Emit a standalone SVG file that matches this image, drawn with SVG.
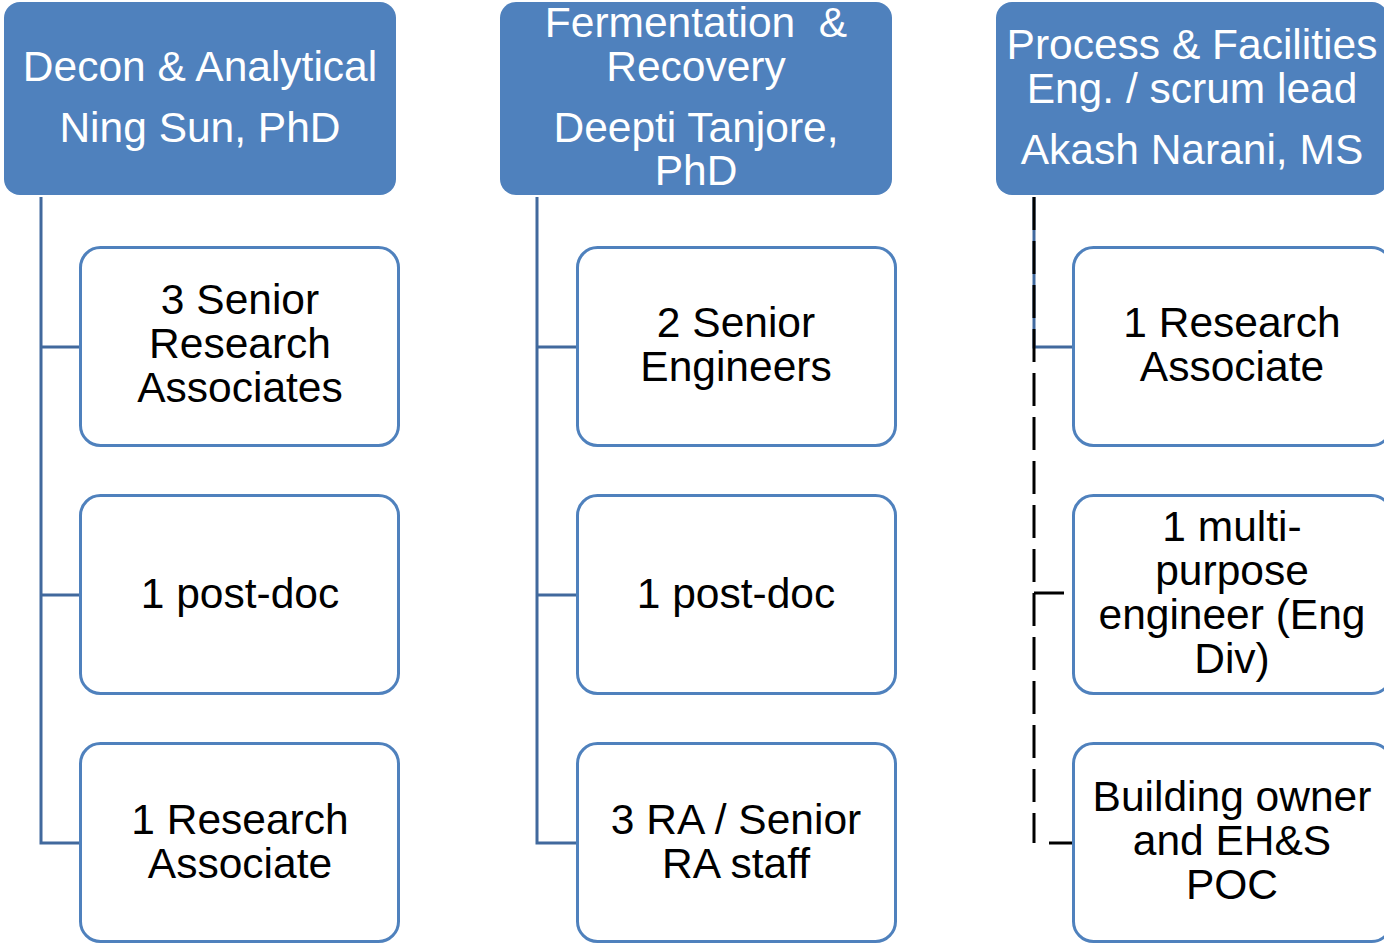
<svg xmlns="http://www.w3.org/2000/svg" width="1384" height="945" viewBox="0 0 1384 945">
<style>
.hdr{fill:#4F81BD;}
.box{fill:#FFFFFF;stroke:#4F81BD;stroke-width:3;}
.ht{font-family:"Liberation Sans",Arial,sans-serif;font-size:42.5px;fill:#FFFFFF;text-anchor:middle;white-space:pre;}
.bt{font-family:"Liberation Sans",Arial,sans-serif;font-size:42.5px;fill:#000000;text-anchor:middle;}
.con{fill:none;stroke:#41699D;stroke-width:3;stroke-linejoin:miter;}
.dash{fill:none;stroke:#000000;stroke-width:3;stroke-dasharray:33 11;}
</style>
<rect width="1384" height="945" fill="#FFFFFF"/>
<g id="connectors">
<path class="con" d="M41,197 V843 H80 M41,347 H80 M41,595 H80"/>
<path class="con" d="M537,197 V843 H577 M537,347 H577 M537,595 H577"/>
<path class="con" d="M1034,197 V347 H1073"/>
<path class="dash" d="M1034,197 V843"/>
<path fill="none" stroke="#000000" stroke-width="3" d="M1034,593 H1064 M1049,843 H1073"/>
</g>
<g id="h1"><rect class="hdr" x="4" y="2" width="392" height="193" rx="16"/>
<text class="ht" x="200" y="81">Decon &amp; Analytical</text>
<text class="ht" x="200" y="142">Ning Sun, PhD</text></g>
<g id="h2"><rect class="hdr" x="500" y="2" width="392" height="193" rx="16"/>
<text class="ht" x="696" y="37">Fermentation  &amp;</text>
<text class="ht" x="696" y="81">Recovery</text>
<text class="ht" x="696" y="142">Deepti Tanjore,</text>
<text class="ht" x="696" y="185">PhD</text></g>
<g id="h3"><rect class="hdr" x="996" y="2" width="392" height="193" rx="16"/>
<text class="ht" x="1192" y="59">Process &amp; Facilities</text>
<text class="ht" x="1192" y="103">Eng. / scrum lead</text>
<text class="ht" x="1192" y="164">Akash Narani, MS</text></g>
<g id="c1a"><rect class="box" x="80.5" y="247.5" width="318" height="198" rx="20"/>
<text class="bt" x="240" y="314">3 Senior</text><text class="bt" x="240" y="358">Research</text><text class="bt" x="240" y="402">Associates</text></g>
<g id="c1b"><rect class="box" x="80.5" y="495.5" width="318" height="198" rx="20"/>
<text class="bt" x="240" y="608">1 post-doc</text></g>
<g id="c1c"><rect class="box" x="80.5" y="743.5" width="318" height="198" rx="20"/>
<text class="bt" x="240" y="834">1 Research</text><text class="bt" x="240" y="878">Associate</text></g>
<g id="c2a"><rect class="box" x="577.5" y="247.5" width="318" height="198" rx="20"/>
<text class="bt" x="736" y="337">2 Senior</text><text class="bt" x="736" y="381">Engineers</text></g>
<g id="c2b"><rect class="box" x="577.5" y="495.5" width="318" height="198" rx="20"/>
<text class="bt" x="736" y="608">1 post-doc</text></g>
<g id="c2c"><rect class="box" x="577.5" y="743.5" width="318" height="198" rx="20"/>
<text class="bt" x="736" y="834">3 RA / Senior</text><text class="bt" x="736" y="878">RA staff</text></g>
<g id="c3a"><rect class="box" x="1073.5" y="247.5" width="318" height="198" rx="20"/>
<text class="bt" x="1232" y="337">1 Research</text><text class="bt" x="1232" y="381">Associate</text></g>
<g id="c3b"><rect class="box" x="1073.5" y="495.5" width="318" height="198" rx="20"/>
<text class="bt" x="1232" y="541">1 multi-</text><text class="bt" x="1232" y="585">purpose</text><text class="bt" x="1232" y="629">engineer (Eng</text><text class="bt" x="1232" y="673">Div)</text></g>
<g id="c3c"><rect class="box" x="1073.5" y="743.5" width="318" height="198" rx="20"/>
<text class="bt" x="1232" y="811">Building owner</text><text class="bt" x="1232" y="855">and EH&amp;S</text><text class="bt" x="1232" y="899">POC</text></g>
</svg>
